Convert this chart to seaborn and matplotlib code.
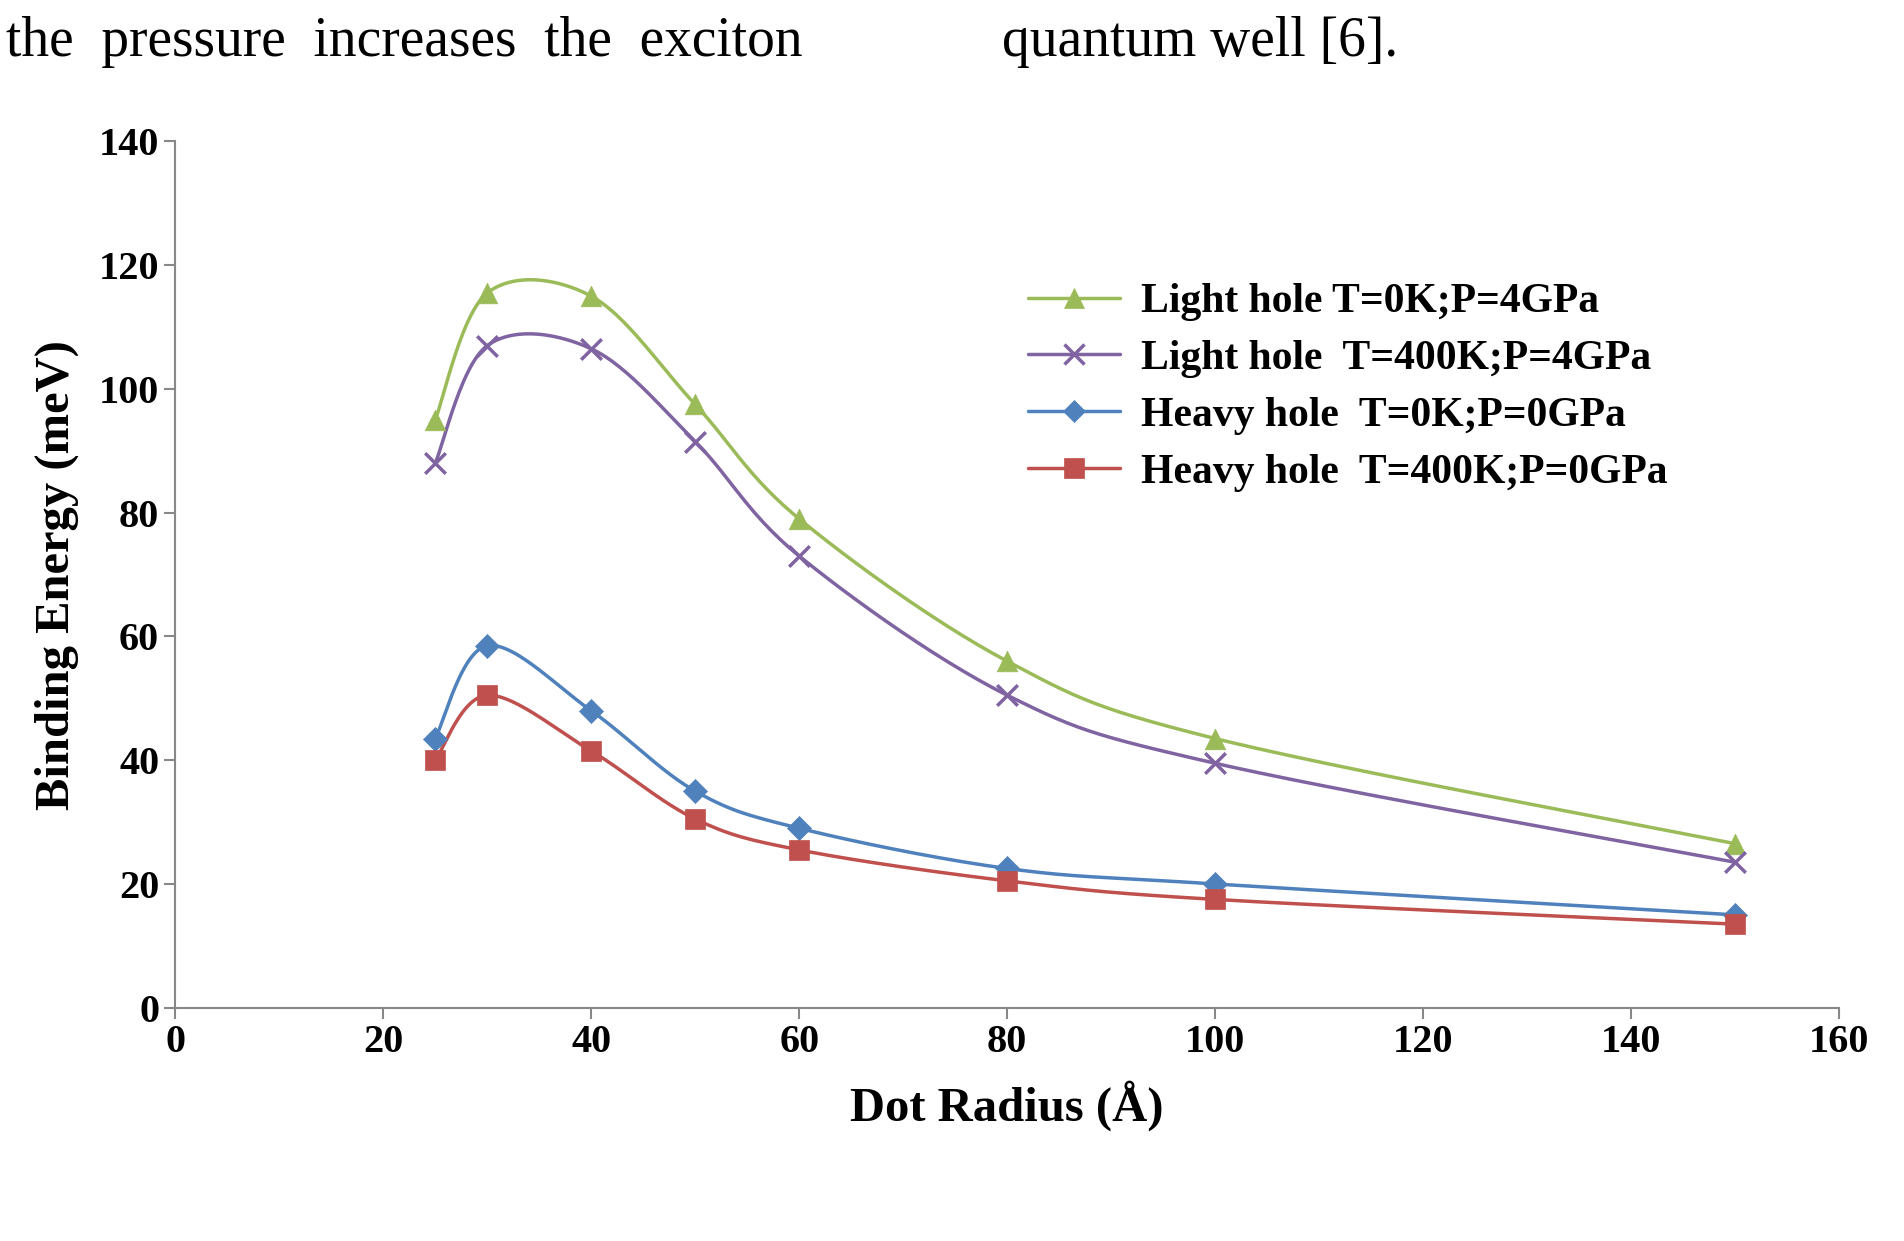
import numpy as np
import pandas as pd
import matplotlib
matplotlib.use("Agg")
import matplotlib.pyplot as plt
import seaborn as sns

radius = [25, 30, 40, 50, 60, 80, 100, 150]
light_t0 = [95, 115.5, 115, 97.5, 79, 56, 43.5, 26.5]
light_t400 = [88, 107, 106.5, 91.5, 73, 50.5, 39.5, 23.5]
heavy_t0 = [43.5, 58.5, 48, 35, 29, 22.5, 20, 15]
heavy_t400 = [40, 50.5, 41.5, 30.5, 25.5, 20.5, 17.5, 13.5]

series = [
    ("Light hole T=0K;P=4GPa", light_t0, "#9BBB59", "^"),
    ("Light hole  T=400K;P=4GPa", light_t400, "#8064A2", "x"),
    ("Heavy hole  T=0K;P=0GPa", heavy_t0, "#4F81BD", "D"),
    ("Heavy hole  T=400K;P=0GPa", heavy_t400, "#C0504D", "s"),
]


def smooth(x, y, n=30):
    # Catmull-Rom style smoothing like Excel's smoothed lines
    x = np.asarray(x, float); y = np.asarray(y, float)
    px = np.concatenate([[x[0]], x, [x[-1]]])
    py = np.concatenate([[y[0]], y, [y[-1]]])
    xs, ys = [], []
    t = np.linspace(0, 1, n)
    for i in range(1, len(px) - 2):
        for p, out in ((px, xs), (py, ys)):
            p0, p1, p2, p3 = p[i - 1], p[i], p[i + 1], p[i + 2]
            out.extend(0.5 * (2 * p1 + (-p0 + p2) * t + (2 * p0 - 5 * p1 + 4 * p2 - p3) * t**2
                              + (-p0 + 3 * p1 - 3 * p2 + p3) * t**3))
    return np.array(xs), np.array(ys)


sns.set_style("white")
plt.rcParams["font.family"] = ["Liberation Serif", "DejaVu Serif"]
plt.rcParams["font.weight"] = "bold"
plt.rcParams["text.color"] = "black"
plt.rcParams["axes.labelcolor"] = "black"

fig = plt.figure(figsize=(19.04, 12.41), dpi=100)
ax = fig.add_axes([0.092, 0.188, 0.874, 0.698])

for label, vals, color, marker in series:
    sx, sy = smooth(radius, vals)
    sns.lineplot(x=sx, y=sy, ax=ax, color=color, lw=2.5, sort=False)
    df = pd.DataFrame({"r": radius, "e": vals})
    ax.scatter(df["r"], df["e"], color=color, marker=marker, s=220 if marker != "D" else 150,
               linewidths=2.5 if marker == "x" else 0.5, zorder=3)
    ax.plot([], [], color=color, marker=marker, lw=2.5, ms=14 if marker != "D" else 11,
            mew=2.5 if marker == "x" else 0.5, label=label)

ax.set_xlim(0, 160)
ax.set_ylim(0, 140)
ax.set_xticks(range(0, 161, 20))
ax.set_yticks(range(0, 141, 20))
ax.tick_params(labelsize=29, length=8, width=1.5, direction="out", color="#888888",
               labelcolor="black", bottom=True, left=True)
for t in ax.get_xticklabels() + ax.get_yticklabels():
    t.set_fontweight("bold")
sns.despine(ax=ax)
for s in ("left", "bottom"):
    ax.spines[s].set_color("#888888")
    ax.spines[s].set_linewidth(1.5)
ax.set_xlabel("Dot Radius (Å)", fontsize=35, fontweight="bold", labelpad=14)
ax.set_ylabel("Binding Energy (meV)", fontsize=35, fontweight="bold", labelpad=14)

ax.legend(loc="upper left", bbox_to_anchor=(0.49, 0.88), frameon=False,
          handlelength=2.2, labelspacing=0.45, handletextpad=0.5,
          prop={"weight": "bold", "size": 30})

fig.text(0.003, 0.966, "the  pressure  increases  the  exciton", fontsize=40,
         fontweight="normal", va="center", ha="left")
fig.text(0.526, 0.966, "quantum well [6].", fontsize=40, fontweight="normal",
         va="center", ha="left")

fig.savefig("out.png", dpi=100)
